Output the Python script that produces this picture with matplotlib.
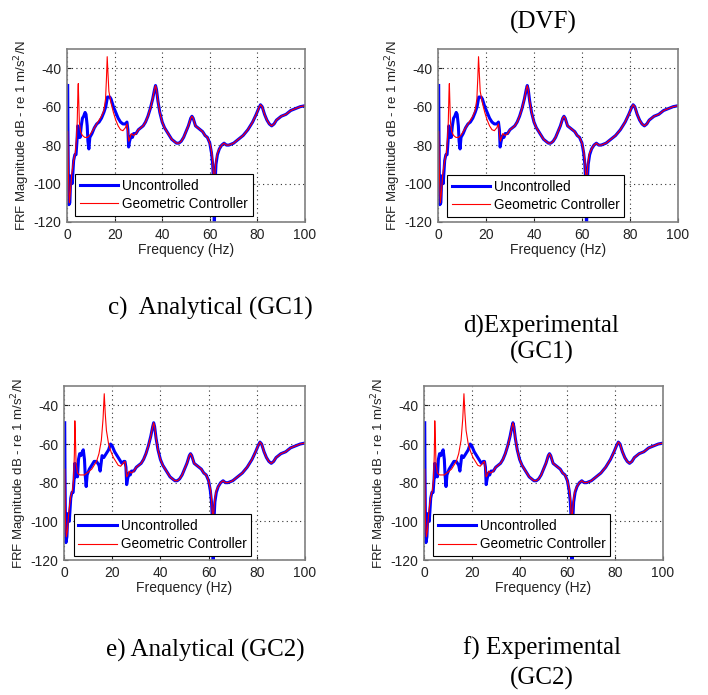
import matplotlib.pyplot as plt
import numpy as np

# Uncontrolled FRF, upper row
unc_top_f = [0.3, 0.4, 0.6, 0.8, 1.2, 1.6, 2.2, 2.8, 3.3, 3.8, 4.2, 4.5, 4.8, 5.2, 5.5, 6.0,
             6.5, 7.0, 7.6, 8.0, 8.5, 8.8, 9.2, 9.6, 10.5, 11.5, 12.5, 13.5, 14.5, 15.5, 16.3,
             17.0, 18.0, 18.5, 19.5, 20.5, 21.5, 22.5, 23.5, 24.5, 25.2, 25.6, 25.9, 26.3, 27.0,
             27.5, 28.0, 29.0]
unc_top_db = [-49, -70, -100, -111, -110, -96, -100, -88, -85, -85, -78, -70, -76, -72, -76, -70,
              -66, -65, -63, -64, -70, -78, -82, -76, -74, -71, -69, -68, -66, -63, -60,
              -55, -55, -56, -60, -63, -66, -68, -69, -69, -68, -72, -81, -78, -75,
              -76, -74, -74]

# Geometric controller FRF, upper row
gc_top_f = [0.3, 0.6, 1.0, 1.4, 2.0, 2.8, 3.5, 4.0, 4.3, 4.6, 4.75, 4.9, 5.2, 5.7, 6.5, 7.5,
            8.5, 9.5, 10.5, 11.5, 12.5, 13.5, 14.5, 15.5, 16.2, 16.6, 16.9, 17.2, 17.6, 18.5,
            19.5, 20.5, 21.5, 22.5, 23.5, 24.5, 25.2, 25.6, 26.0, 26.5, 27.0, 28.0, 29.0]
gc_top_db = [-73, -95, -110, -105, -95, -88, -84, -76, -68, -52, -48, -55, -68, -73, -75, -76,
             -76, -75, -73, -71, -69, -67, -65, -62, -56, -45, -34, -42, -52, -58,
             -63, -67, -70, -72, -72.5, -71, -69, -74, -78, -76, -74, -75, -74]

# Uncontrolled FRF, lower row
unc_bot_f = [0.3, 0.4, 0.6, 0.8, 1.2, 1.6, 2.2, 2.8, 3.3, 3.8, 4.2, 4.5, 4.8, 5.2, 5.6, 6.0,
             6.5, 7.0, 7.6, 8.0, 8.5, 8.8, 9.2, 9.6, 10.5, 11.5, 12.5, 13.5, 14.5, 15.0, 15.4,
             15.8, 16.5, 17.5, 18.5, 19.3, 20.0, 21.0, 22.0, 23.0, 24.0, 24.8, 25.3, 25.7, 26.0,
             26.4, 27.0, 27.5, 28.0, 29.0]
unc_bot_db = [-49, -72, -100, -111, -108, -96, -100, -88, -85, -85, -78, -70, -77, -72, -77, -68,
              -65, -66, -64, -63, -68, -76, -82, -76, -73, -71, -69, -69, -71, -74, -70,
              -66, -67, -65, -63, -60, -61, -64, -66, -68, -70, -69, -69, -72, -81,
              -78, -75, -76, -74, -74]

# Geometric controller FRF, lower row
gc_bot_f = [0.3, 0.6, 1.0, 1.4, 2.0, 2.8, 3.5, 4.0, 4.3, 4.5, 4.7, 5.0, 5.6, 6.5, 7.5, 8.5,
            9.5, 10.5, 11.5, 12.5, 13.5, 14.5, 15.5, 16.2, 16.7, 17.1, 17.6, 18.5, 19.5, 20.5,
            21.5, 22.5, 23.5, 24.5, 25.3, 25.7, 26.0, 26.5, 27.0, 28.0, 29.0]
gc_bot_db = [-73, -100, -108, -105, -95, -87, -84, -78, -65, -48, -55, -70, -75, -76, -76, -76,
             -75, -74, -73, -71, -69, -65, -58, -47, -34, -44, -53, -60, -64, -67,
             -69, -71, -71.5, -70, -69, -73, -77, -76, -74, -75, -74]

# Shared part of both curves above 29 Hz
mid_f = [30, 31, 32, 33, 34, 35, 36, 36.8, 37.2, 37.6, 38.2, 39, 40, 41, 42, 43, 44, 45, 46,
         47, 48, 49, 50, 51, 52, 52.5, 53, 54, 55, 56, 57, 58, 59, 60]
mid_db = [-72, -71, -70, -68, -65, -61, -56, -51, -49, -51, -57, -63, -68, -71, -73, -75, -77,
          -78, -79, -79, -78, -76, -73, -70, -66, -65, -66, -70, -71, -72, -73, -75, -76, -79]
high_f = [64, 65, 66, 67, 68, 70, 72, 74, 76, 78, 79.5, 80.5, 81.3, 82, 83, 84, 85, 86, 87,
          88, 90, 92, 94, 96, 98, 100]
high_db = [-82, -80, -79, -80, -80, -79, -77, -75, -72, -68, -64, -61, -59, -60, -64, -67, -69,
           -70, -69, -67, -65, -64, -62, -61, -60, -59.5]

# Anti-resonance near 62 Hz
unc_dip_f = [60.7, 61.2, 61.6, 61.9, 62.2, 62.6, 63.2]
unc_dip_db = [-84, -90, -100, -125, -100, -90, -85]
gc_dip_f = [60.7, 61.2, 61.5, 61.9, 62.2, 62.6, 63.2]
gc_dip_db = [-83, -88, -95, -100, -94, -88, -84]

panels = [
    ([0.0946, 0.6806, 0.3362, 0.2489], unc_top_f, unc_top_db, gc_top_f, gc_top_db, 0.034, 0.035),
    ([0.6186, 0.6806, 0.3390, 0.2489], unc_top_f, unc_top_db, gc_top_f, gc_top_db, 0.037, 0.030),
    ([0.0904, 0.1942, 0.3404, 0.2504], unc_bot_f, unc_bot_db, gc_bot_f, gc_bot_db, 0.040, 0.023),
    ([0.5989, 0.1942, 0.3376, 0.2504], unc_bot_f, unc_bot_db, gc_bot_f, gc_bot_db, 0.037, 0.023),
]

plt.rcParams['font.family'] = ['Liberation Sans', 'DejaVu Sans']
plt.rcParams['axes.unicode_minus'] = False
fig = plt.figure(figsize=(7.08, 6.95), dpi=100)

for rect, uf, ud, gf, gd, lx, ly in panels:
    ax = fig.add_axes(rect)
    f_u = np.r_[uf, mid_f, unc_dip_f, high_f]
    d_u = np.r_[ud, mid_db, unc_dip_db, high_db]
    f_g = np.r_[gf, mid_f, gc_dip_f, high_f]
    d_g = np.r_[gd, mid_db, gc_dip_db, high_db]
    ax.plot(f_u, d_u, color="#0000ff", lw=2.2, label="Uncontrolled")
    ax.plot(f_g, d_g, color="#ff0000", lw=0.8, label="Geometric Controller")
    ax.set_xlim(0, 100)
    ax.set_ylim(-120, -30)
    ax.set_xticks([0, 20, 40, 60, 80, 100])
    ax.set_yticks([-120, -100, -80, -60, -40])
    ax.grid(True, linestyle=(0, (1, 3)), color="#333333", linewidth=0.8)
    ax.tick_params(labelsize=10, colors="#222222", length=3, direction="in", pad=4)
    for s in ax.spines.values():
        s.set_color("#808080")
        s.set_linewidth(1.2)
    ax.set_xlabel("Frequency (Hz)", fontsize=10, color="#222222", labelpad=1)
    ax.set_ylabel("FRF Magnitude dB - re 1 m/s$^2$/N", fontsize=9.5, color="#222222", labelpad=1)
    leg = ax.legend(loc="lower left", bbox_to_anchor=(lx, ly), borderaxespad=0,
                    fontsize=9.8, fancybox=False, framealpha=1, edgecolor="black",
                    handlelength=2.8, borderpad=0.35, labelspacing=0.3, handletextpad=0.3)
    leg.get_frame().set_linewidth(0.8)

# Sub-figure captions
cap = dict(fontsize=18, family="Liberation Serif", ha="center", va="center")
fig.text(543 / 708, 1 - 22 / 695, "(DVF)", **cap)
fig.text(210 / 708, 1 - 308 / 695, "c)  Analytical (GC1)", **cap)
fig.text(541 / 708, 1 - 326 / 695, "d)Experimental", **cap)
fig.text(542 / 708, 1 - 352 / 695, "(GC1)", **cap)
fig.text(205 / 708, 1 - 650 / 695, "e) Analytical (GC2)", **cap)
fig.text(542 / 708, 1 - 648 / 695, "f) Experimental", **cap)
fig.text(542 / 708, 1 - 678 / 695, "(GC2)", **cap)

fig.savefig("out.png", dpi=100)
